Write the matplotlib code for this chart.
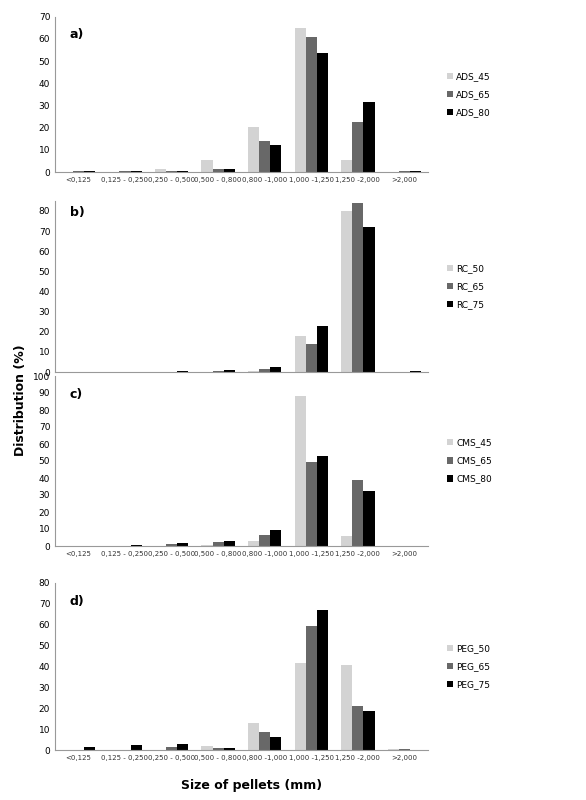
import matplotlib
matplotlib.use("Agg")
import matplotlib.pyplot as plt
import numpy as np

cats = ["<0,125", "0,125 - 0,250", "0,250 - 0,500", "0,500 - 0,800", "0,800 -1,000", "1,000 -1,250", "1,250 -2,000", ">2,000"]
ads_names = ["ADS_45", "ADS_65", "ADS_80"]
ads_45 = [0, 0, 1.5, 5.5, 20.5, 65, 5.5, 0]
ads_65 = [0.3, 0.3, 0.3, 1.3, 14, 61, 22.5, 0.3]
ads_80 = [0.3, 0.3, 0.5, 1.5, 12, 53.5, 31.5, 0.5]
rc_names = ["RC_50", "RC_65", "RC_75"]
rc_50 = [0, 0, 0, 0, 0.3, 18, 80, 0]
rc_65 = [0, 0, 0.2, 0.3, 1.5, 14, 84, 0.2]
rc_75 = [0, 0, 0.3, 0.8, 2.5, 23, 72, 0.3]
cms_names = ["CMS_45", "CMS_65", "CMS_80"]
cms_45 = [0, 0, 0.2, 0.8, 3, 88, 6, 0]
cms_65 = [0.2, 0.2, 1, 2.5, 6.5, 49.5, 39, 0.2]
cms_80 = [0, 0.3, 1.5, 3, 9.5, 53, 32.5, 0.2]
peg_names = ["PEG_50", "PEG_65", "PEG_75"]
peg_50 = [0, 0, 0, 2, 13, 41.5, 40.5, 0.3]
peg_65 = [0.2, 0.2, 1.5, 1, 8.5, 59.5, 21, 0.3]
peg_75 = [1.3, 2.5, 3, 1, 6, 67, 18.5, 0]

panels = [
    ("a)", ads_names, [ads_45, ads_65, ads_80], 70, 10, (0.785, 0.194)),
    ("b)", rc_names, [rc_50, rc_65, rc_75], 85, 10, (0.535, 0.214)),
    ("c)", cms_names, [cms_45, cms_65, cms_80], 100, 10, (0.3175, 0.2125)),
    ("d)", peg_names, [peg_50, peg_65, peg_75], 80, 10, (0.0625, 0.209)),
]
colors = ["#d3d3d3", "#686868", "#000000"]

fig = plt.figure(figsize=(5.86, 8.0), dpi=100)
x = np.arange(len(cats))
w = 0.24
for label, names, series, ymax, step, (b, h) in panels:
    ax = fig.add_axes([0.094, b, 0.636, h])
    for i, (n, s) in enumerate(zip(names, series)):
        ax.bar(x + (i - 1) * w, s, w, color=colors[i], label=n)
    ax.set_xlim(-0.5, len(cats) - 0.5)
    ax.set_ylim(0, ymax)
    ax.set_yticks(np.arange(0, (80 if ymax == 85 else ymax) + 1, step))
    ax.set_xticks(x)
    ax.set_xticklabels(cats, fontsize=5, color="#333")
    ax.tick_params(axis="y", labelsize=6.5, length=0)
    ax.tick_params(axis="x", length=0)
    for sp in ["top", "right"]:
        ax.spines[sp].set_visible(False)
    ax.spines["left"].set_color("#999")
    ax.spines["bottom"].set_color("#999")
    ax.text(0.04, 0.93 if ymax != 85 else 0.97, label, transform=ax.transAxes,
            fontsize=9, fontweight="bold", va="top")
    ax.legend(loc="center left", bbox_to_anchor=(1.03, 0.5), frameon=False,
              fontsize=6.5, handlelength=0.7, handleheight=0.7, handletextpad=0.3,
              labelspacing=1.0)

fig.text(0.035, 0.5, "Distribution (%)", rotation=90, va="center", ha="center",
         fontsize=9, fontweight="bold")
fig.text(0.43, 0.018, "Size of pellets (mm)", ha="center", va="center",
         fontsize=9, fontweight="bold")
fig.savefig("out.png", dpi=100)
